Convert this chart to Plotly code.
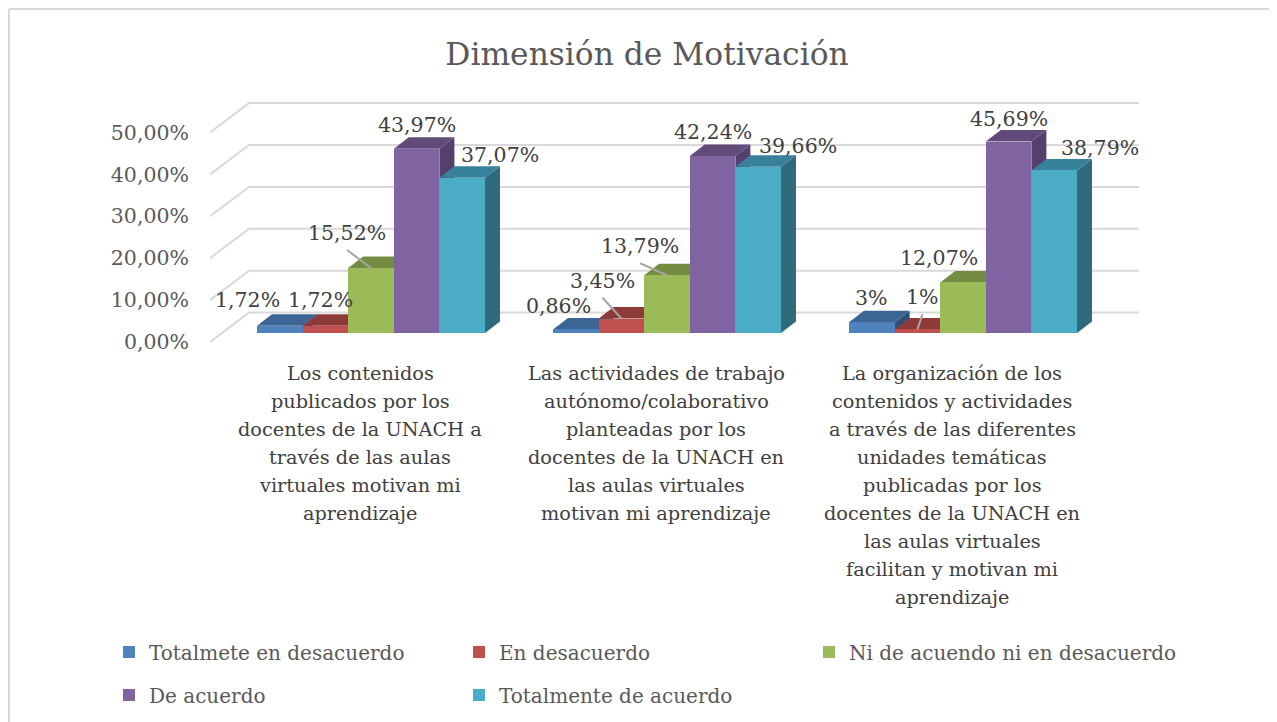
import plotly.graph_objects as go

CATEGORIES = [
    "Los contenidos<br>publicados por los<br>docentes de la UNACH a<br>través de las aulas<br>virtuales motivan mi<br>aprendizaje",
    "Las actividades de trabajo<br>autónomo/colaborativo<br>planteadas por los<br>docentes de la UNACH en<br>las aulas virtuales<br>motivan mi aprendizaje",
    "La organización de los<br>contenidos y actividades<br>a través de las diferentes<br>unidades temáticas<br>publicadas por los<br>docentes de la UNACH en<br>las aulas virtuales<br>facilitan y motivan mi<br>aprendizaje",
]
SERIES = ["Totalmete en desacuerdo", "En desacuerdo", "Ni de acuendo ni en desacuerdo",
          "De acuerdo", "Totalmente de acuerdo"]
totalmente_desacuerdo = [1.72, 0.86, 2.59]
en_desacuerdo = [1.72, 3.45, 0.86]
ni_ni = [15.52, 13.79, 12.07]
de_acuerdo = [43.97, 42.24, 45.69]
totalmente_acuerdo = [37.07, 39.66, 38.79]
VALUES = [totalmente_desacuerdo, en_desacuerdo, ni_ni, de_acuerdo, totalmente_acuerdo]
LABELS = [["1,72%", "0,86%", "3%"], ["1,72%", "3,45%", "1%"], ["15,52%", "13,79%", "12,07%"],
          ["43,97%", "42,24%", "45,69%"], ["37,07%", "39,66%", "38,79%"]]
Y_TICKS = [0, 10, 20, 30, 40, 50]
Y_TICK_LABELS = ["0,00%", "10,00%", "20,00%", "30,00%", "40,00%", "50,00%"]

FRONT = ["#4F81BD", "#C0504D", "#9BBB59", "#8064A2", "#4BACC6"]
TOP = ["#3C6494", "#8E3A38", "#748C42", "#604B7A", "#38819A"]
SIDE = ["#2F4F76", "#702E2C", "#5C6F35", "#54406D", "#2F6B7C"]

# label offsets in pixels from the top centre of each front face (series, category)
LABEL_OFFSET = [
    [(-32, 26), (-17, 23), (0, 24)],
    [(-5, 26), (-19, 38), (5, 32)],
    [(-24, 35), (-27, 29), (-24, 24)],
    [(0, 24), (0, 24), (0, 23)],
    [(38, 23), (40, 21), (46, 22)],
]
LEADERS = [(2, 0), (1, 1), (2, 1), (1, 2)]

# The page adds an 8px body margin around the figure
W, H = 1269, 714
L, R, T, B = 202, 138, 92, 380
PX_X = 296.0   # pixels per category
PX_Y = 4.19    # pixels per percentage point
X_RANGE = [-161 / PX_X, (W - R - L - 161) / PX_X]
Y_RANGE = [0, (H - T - B) / PX_Y]
BAR_W = 45.6 / PX_X
BASE = 9 / PX_Y
DX, DY = 15 / PX_X, 11.5 / PX_Y
FLOOR_DX, FLOOR_DY = 39 / PX_X, 29.4 / PX_Y
FONT = "DejaVu Serif"
LINE_STEP = 28.1

fig = go.Figure()

# Back wall grid lines
for t in Y_TICKS:
    fig.add_trace(go.Scatter(
        x=[X_RANGE[0], X_RANGE[0] + FLOOR_DX, X_RANGE[1]],
        y=[t, t + FLOOR_DY, t + FLOOR_DY], mode="lines",
        line=dict(color="#D9D9D9", width=2), showlegend=False, hoverinfo="skip"))

# Depth faces of each bar, left to right
for s, vals in enumerate(VALUES):
    for c, v in enumerate(vals):
        x0 = c + (s - 2.5) * BAR_W
        x1 = x0 + BAR_W
        y0, y1 = BASE, BASE + v
        fig.add_trace(go.Scatter(
            x=[x1, x1 + DX, x1 + DX, x1, x1], y=[y0, y0 + DY, y1 + DY, y1, y0],
            mode="lines", fill="toself", fillcolor=SIDE[s], line=dict(width=0),
            showlegend=False, hoverinfo="skip"))
        fig.add_trace(go.Scatter(
            x=[x0, x1, x1 + DX, x0 + DX, x0], y=[y1, y1, y1 + DY, y1 + DY, y1],
            mode="lines", fill="toself", fillcolor=TOP[s], line=dict(width=0),
            showlegend=False, hoverinfo="skip"))

# Front faces on an overlaid subplot, so they cover all depth faces
LEGEND_KEYS = ["legend", "legend2", "legend3", "legend4", "legend5"]
for s, (name, vals) in enumerate(zip(SERIES, VALUES)):
    fig.add_trace(go.Bar(
        x=[c + (s - 2) * BAR_W for c in range(len(vals))], y=vals, base=BASE, width=BAR_W,
        name=name, marker=dict(color=FRONT[s], line=dict(width=0)),
        xaxis="x2", yaxis="y2", legend=LEGEND_KEYS[s]))

# Leader lines
for s, c in LEADERS:
    ox, oy = LABEL_OFFSET[s][c]
    top_x = c + (s - 2) * BAR_W
    top_y = BASE + VALUES[s][c]
    fig.add_trace(go.Scatter(
        x=[top_x, top_x + ox / PX_X], y=[top_y, top_y + (oy - 17) / PX_Y], mode="lines",
        line=dict(color="#A6A6A6", width=2), showlegend=False, hoverinfo="skip",
        xaxis="x2", yaxis="y2"))

# Data labels
for s, vals in enumerate(VALUES):
    for c, v in enumerate(vals):
        ox, oy = LABEL_OFFSET[s][c]
        fig.add_annotation(
            x=c + (s - 2) * BAR_W, y=BASE + v, xref="x2", yref="y2", text=LABELS[s][c],
            showarrow=False, xshift=ox, yshift=oy, xanchor="center", yanchor="middle",
            font=dict(family=FONT, size=20.5, color="#404040"))

# Category labels, line by line under the floor
for c, label in enumerate(CATEGORIES):
    for i, line in enumerate(label.split("<br>")):
        fig.add_annotation(
            x=c - 11 / PX_X, y=0, xref="x", yref="y", text=line, showarrow=False,
            yshift=-(31 + i * LINE_STEP), xanchor="center", yanchor="middle",
            font=dict(family=FONT, size=19.3, color="#404040"))


def legend_box(col, y_px):
    return dict(orientation="h", xanchor="left", yanchor="middle",
                x=(101 + col * 350) / W, xref="container", yref="container", y=1 - y_px / H,
                itemclick=False, bgcolor="rgba(0,0,0,0)",
                font=dict(family=FONT, size=20, color="#595959"))


border_x = (1 - L) / (W - L - R)
border_y = (H - B - 1) / (H - T - B)
fig.update_layout(
    width=W, height=H, autosize=False, margin=dict(l=L, r=R, t=T, b=B, autoexpand=False),
    paper_bgcolor="white", plot_bgcolor="white", showlegend=True, separators=",.",
    barmode="overlay", bargap=0,
    title=dict(text="Dimensión de Motivación", x=639 / W, xanchor="center", y=1 - 46 / H,
               yanchor="middle", font=dict(family=FONT, size=31.3, color="#595959")),
    xaxis=dict(range=X_RANGE, showgrid=False, zeroline=False, showline=False, ticks="",
               showticklabels=False),
    yaxis=dict(range=Y_RANGE, showgrid=False, zeroline=False, showline=False, ticks="",
               tickmode="array", tickvals=Y_TICKS, ticktext=Y_TICK_LABELS,
               ticklabelstandoff=20, tickfont=dict(family=FONT, size=20.5, color="#595959")),
    xaxis2=dict(range=X_RANGE, overlaying="x", visible=False),
    yaxis2=dict(range=Y_RANGE, overlaying="y", visible=False),
    legend=legend_box(0, 644),
    legend2=legend_box(1, 644),
    legend3=legend_box(2, 644),
    legend4=legend_box(0, 687),
    legend5=legend_box(1, 687),
    shapes=[
        dict(type="line", xref="paper", yref="paper", line=dict(color="#D9D9D9", width=2),
             x0=border_x, x1=border_x, y0=(H - B - H) / (H - T - B), y1=border_y),
        dict(type="line", xref="paper", yref="paper", line=dict(color="#D9D9D9", width=2),
             x0=border_x, x1=(W - L) / (W - L - R), y0=border_y, y1=border_y),
    ],
)
fig.write_html("out.html")
